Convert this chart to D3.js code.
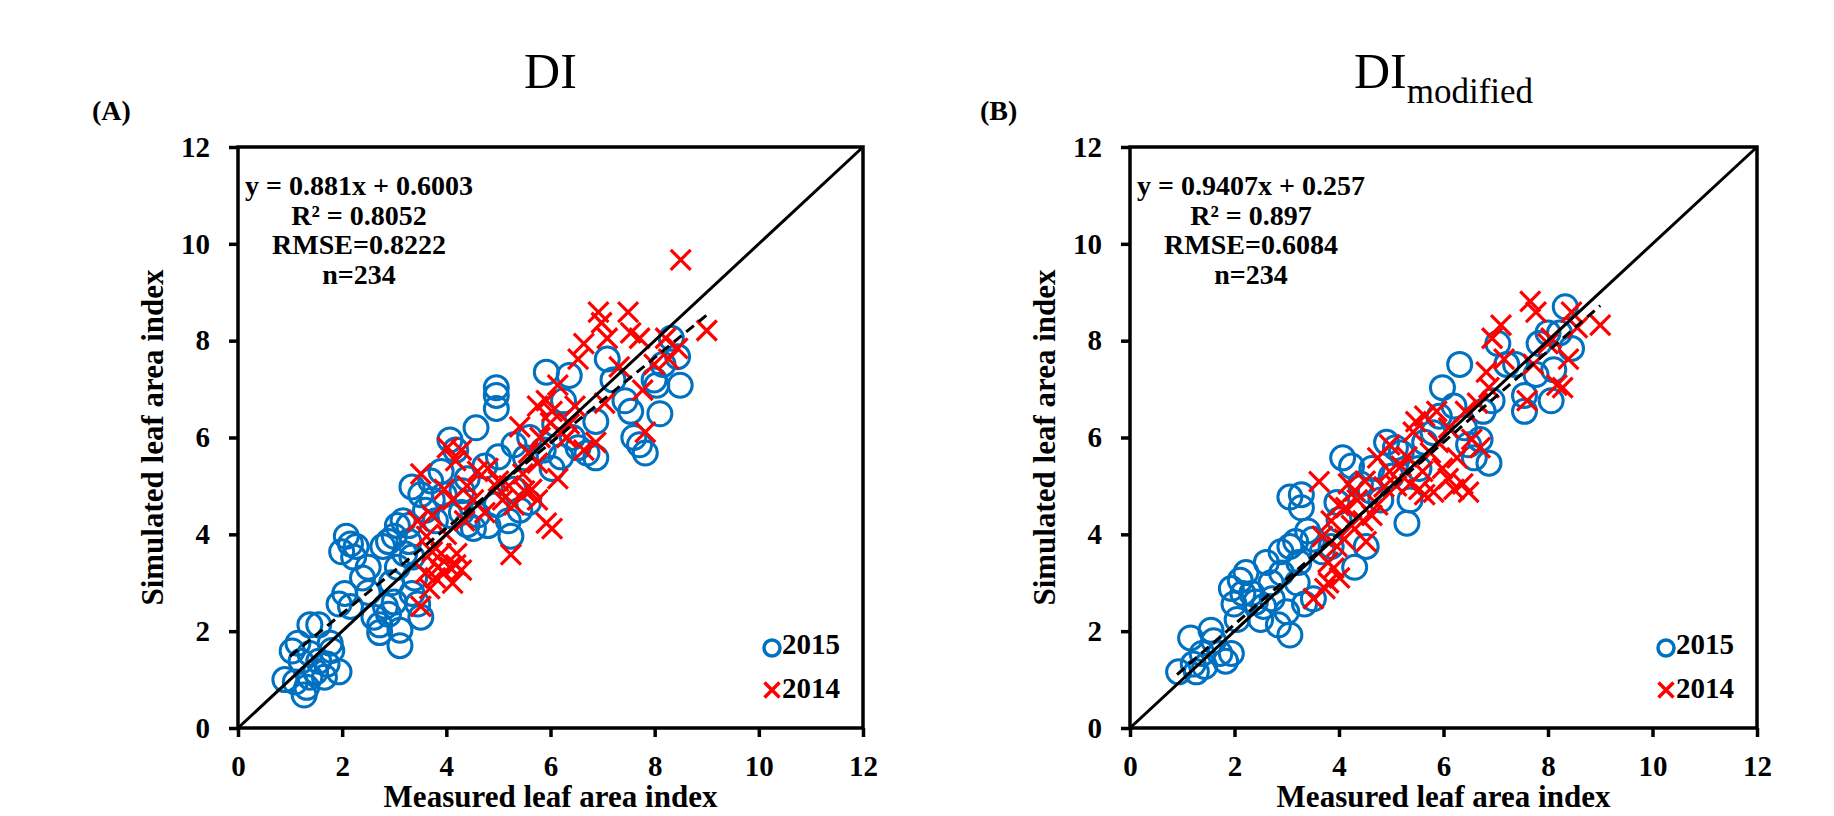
<!DOCTYPE html>
<html><head><meta charset="utf-8">
<script src="https://cdn.jsdelivr.net/npm/d3@7"></script>
<style>body{margin:0;background:#fff}svg{display:block}text{font-family:"Liberation Serif","Times New Roman",serif}</style>
</head><body>
<svg id="c" width="1834" height="816"></svg>
<script>
const ticks = [0, 2, 4, 6, 8, 10, 12];
const domain = [0, 12];
const legendLabels = ["2015", "2014"];
const panelLabels = ["(A)", "(B)"];
const xTitle = "Measured leaf area index";
const yTitle = "Simulated leaf area index";
const statsA = ["y = 0.881x + 0.6003", "R² = 0.8052", "RMSE=0.8222", "n=234"];
const statsB = ["y = 0.9407x + 0.257", "R² = 0.897", "RMSE=0.6084", "n=234"];
const fitA = {slope: 0.881, intercept: 0.6003, x0: 1.0, x1: 9.05};
const fitB = {slope: 0.9407, intercept: 0.257, x0: 0.9, x1: 9.0};

const a2015 = [[0.9,1.0],[1.15,1.75],[1.27,0.68],[1.32,0.84],[1.38,2.13],[1.55,2.13],[1.21,1.38],[1.49,1.16],[1.71,1.32],[1.77,1.75],[1.94,1.16],[1.66,1.05],[1.04,1.59],[1.38,1.54],[1.55,1.38],[1.1,0.95],[1.38,1.05],
[1.99,3.64],[2.08,3.96],[2.16,3.8],[2.27,3.75],[2.22,3.53],[1.94,2.56],[2.05,2.78],[2.16,2.51],[2.39,3.1],[2.5,3.32],[2.61,2.29],[2.72,2.13],[2.72,1.97],[2.83,2.51],[2.78,3.75],[2.89,3.85],[2.89,2.35],[3.11,2.02],[3.11,1.7],[2.95,3.0],[3.06,3.32],[3.17,4.28],[3.06,4.18],[3.28,4.18],[3.0,3.96],[3.28,3.85],[3.34,3.53],[3.39,3.1],[3.34,2.78],[3.45,2.56],[3.51,2.29],
[3.34,4.98],[3.51,4.82],[3.73,4.71],[3.9,5.3],[4.07,5.95],[4.18,5.74],[3.96,4.82],[3.79,4.28],[4.07,4.39],[4.29,4.45],[4.4,5.15],[4.57,6.2],[4.74,5.41],[4.96,7.03],[4.96,6.87],[4.96,6.6],[4.8,4.18],[4.52,4.12],[4.96,4.61],[5.19,4.28],[5.24,3.96],[5.3,4.93],[5.3,5.85],[5.52,5.58],[5.41,4.5],[5.58,4.66],[5.86,5.74],[5.92,7.35],[6.03,5.36],[6.08,6.28],[6.25,6.76],[6.36,7.28],[6.42,6.0],[6.53,5.79],[6.7,5.68],[6.87,5.58],[6.87,6.33],[7.09,7.62],[7.2,7.19],[7.43,6.76],[7.54,6.54],[7.6,6.0],[7.71,5.85],[7.82,5.68],[7.99,7.19],[8.04,7.08],[8.1,6.49],[8.32,8.05],[8.44,7.67],[8.49,7.08],[8.16,7.51],
[3.2,3.6],[3.6,4.5],[3.7,5.1],[4.3,4.9],[4.6,4.4],[5.0,5.6],[5.6,6.0],[6.2,5.6],[3.0,2.6],[2.5,2.8],[1.8,1.6],[4.4,4.2]];
const a2014 = [[3.51,2.51],[3.51,5.25],[3.45,4.28],[3.62,3.96],[3.73,3.64],[3.79,3.1],[3.68,2.88],[3.84,3.32],[3.96,3.21],[4.07,3.32],[4.18,3.37],[4.29,3.26],[4.12,2.99],[3.73,4.39],[3.96,4.93],[4.02,5.79],[4.18,5.52],[4.29,5.74],[4.12,4.71],[4.35,4.28],[4.52,4.71],[4.74,4.45],[4.8,5.36],[4.96,4.98],[5.08,4.71],[5.24,3.58],[5.3,4.61],[5.41,6.22],[5.47,5.25],[5.58,5.68],[5.64,4.93],[5.75,5.47],[5.75,6.65],[5.75,4.71],[5.92,4.23],[6.03,4.12],[5.92,6.76],[6.03,6.54],[6.14,7.08],[6.14,5.15],[6.31,6.0],[6.36,6.28],[6.47,6.65],[6.53,7.62],[6.64,7.94],[6.92,8.59],[6.98,8.37],[7.09,8.05],[6.64,5.74],[6.87,5.9],[7.04,6.71],[7.49,8.59],[7.54,8.16],[7.71,8.05],[7.77,6.98],[7.82,6.11],[7.99,7.51],[8.27,7.62],[8.44,7.84],[8.5,9.67],[9.0,8.21],[8.21,8.05],[7.32,7.46],
[3.9,3.6],[4.0,4.0],[4.4,5.0],[4.6,5.3],[5.0,5.1],[5.2,5.0],[5.5,4.9],[5.8,6.0],[6.0,6.3],[6.2,6.1],[3.6,3.2],[4.2,3.6]];

const b2015 = [[0.93,1.16],[1.16,1.86],[1.27,1.16],[1.38,1.54],[1.55,2.02],[1.72,1.54],[1.94,1.54],[1.83,1.38],[1.21,1.32],[1.43,1.27],[1.94,2.88],[1.99,2.56],[2.11,3.05],[2.22,3.21],[2.33,2.78],[2.16,2.78],[2.05,2.24],[2.5,2.24],[2.61,3.42],[2.56,2.51],[2.72,2.67],[2.84,2.13],[3.0,2.4],[3.06,1.92],[2.89,3.64],[3.06,3.75],[3.17,3.85],[3.23,3.42],[3.34,2.56],[3.51,2.67],[3.06,4.77],[3.28,4.82],[3.28,4.55],[3.4,4.07],[3.68,3.64],[3.85,3.75],[3.96,4.66],[4.07,5.58],[4.24,5.41],[4.3,3.32],[4.52,3.75],[4.41,5.04],[4.63,5.36],[4.8,4.71],[4.91,5.9],[5.08,5.79],[5.19,5.68],[5.3,4.23],[5.36,4.71],[5.53,5.36],[5.64,5.9],[5.98,7.03],[5.92,6.44],[6.2,6.65],[6.31,7.51],[6.48,5.85],[6.59,5.58],[6.7,5.96],[6.87,5.47],[6.76,6.54],[6.93,6.76],[7.04,7.94],[7.21,7.51],[7.38,7.51],[7.55,6.87],[7.55,6.54],[7.77,7.3],[7.83,7.94],[8.0,8.16],[8.11,7.4],[8.06,6.76],[8.33,8.7],[8.45,7.84],[8.22,8.16],
[1.6,1.8],[2.4,2.6],[2.9,3.2],[3.2,3.0],[2.7,3.0],[3.5,3.9],[4.0,4.3],[4.6,4.9],[5.0,5.2],[5.8,6.1],[6.4,6.2]];
const b2014 = [[3.51,2.67],[3.62,5.09],[3.79,3.42],[3.68,3.96],[3.85,4.28],[3.96,3.75],[4.01,3.1],[4.13,4.55],[4.18,5.04],[4.24,4.18],[4.35,4.71],[4.46,4.28],[4.52,3.85],[4.63,4.39],[4.74,4.61],[4.86,4.98],[4.97,5.3],[4.74,5.58],[4.97,5.85],[5.19,5.41],[5.36,5.04],[5.42,6.11],[5.47,6.33],[5.53,4.93],[5.64,4.82],[5.64,6.44],[5.75,5.68],[5.81,4.87],[5.87,6.54],[5.98,5.36],[6.09,5.15],[6.2,4.93],[6.26,5.58],[6.37,5.04],[6.48,4.87],[6.42,6.54],[6.54,5.96],[6.65,6.71],[6.7,5.79],[6.82,7.35],[6.87,7.03],[6.93,8.05],[7.1,8.32],[7.16,7.62],[7.66,8.81],[7.77,8.59],[7.6,6.76],[7.72,7.51],[8.0,7.94],[8.06,8.05],[8.17,7.08],[8.28,7.03],[8.45,8.59],[8.56,8.27],[9.0,8.32],[8.39,7.62],[3.73,2.88],
[3.9,3.3],[4.1,3.9],[4.3,4.9],[4.5,5.1],[5.1,5.0],[5.3,5.6],[5.6,5.3],[5.9,5.9],[6.1,6.2],[4.0,4.6],[3.8,3.0]];

const svg = d3.select("#c");
const panels = [
  {left: 238, right: 863, top: 147, bottom: 728, s2015: a2015, s2014: a2014, stats: statsA, fit: fitA, label: panelLabels[0], labelX: 92, title: "DI", sub: null},
  {left: 1130, right: 1757, top: 147, bottom: 728, s2015: b2015, s2014: b2014, stats: statsB, fit: fitB, label: panelLabels[1], labelX: 980, title: "DI", sub: "modified"}
];
const blue = "#0070C0", red = "#FF0000";

panels.forEach(p => {
  const x = d3.scaleLinear(domain, [p.left, p.right]);
  const y = d3.scaleLinear(domain, [p.bottom, p.top]);
  const g = svg.append("g");

  const cx = (p.left + p.right) / 2;
  const t = g.append("text").attr("x", cx).attr("y", 88).attr("text-anchor", "middle")
    .attr("font-size", 50).attr("fill", "#000");
  t.append("tspan").text(p.title);
  if (p.sub) t.append("tspan").attr("font-size", 35).attr("dy", 15).text(p.sub);

  g.append("text").attr("x", p.labelX).attr("y", 120).attr("font-size", 28).attr("font-weight", "bold").text(p.label);

  g.append("g").selectAll("circle").data(p.s2015).join("circle")
    .attr("cx", d => x(d[0])).attr("cy", d => y(d[1])).attr("r", 12)
    .attr("fill", "none").attr("stroke", blue).attr("stroke-width", 3);
  const cs = 10;
  g.append("g").selectAll("path").data(p.s2014).join("path")
    .attr("d", d => { const px = x(d[0]), py = y(d[1]);
      return `M${px-cs},${py-cs}L${px+cs},${py+cs}M${px-cs},${py+cs}L${px+cs},${py-cs}`; })
    .attr("stroke", red).attr("stroke-width", 3.2).attr("fill", "none");

  g.append("line").attr("x1", x(0)).attr("y1", y(0)).attr("x2", x(12)).attr("y2", y(12))
    .attr("stroke", "#000").attr("stroke-width", 3);
  const f = p.fit;
  g.append("line").attr("x1", x(f.x0)).attr("y1", y(f.slope * f.x0 + f.intercept))
    .attr("x2", x(f.x1)).attr("y2", y(f.slope * f.x1 + f.intercept))
    .attr("stroke", "#000").attr("stroke-width", 3).attr("stroke-dasharray", "10,6");

  g.append("rect").attr("x", p.left).attr("y", p.top).attr("width", p.right - p.left).attr("height", p.bottom - p.top)
    .attr("fill", "none").attr("stroke", "#000").attr("stroke-width", 3.5);

  const xa = g.append("g").attr("transform", `translate(0,${p.bottom})`)
    .call(d3.axisBottom(x).tickValues(ticks).tickSize(9).tickSizeOuter(0).tickPadding(18).tickFormat(d3.format("d")));
  const ya = g.append("g").attr("transform", `translate(${p.left},0)`)
    .call(d3.axisLeft(y).tickValues(ticks).tickSize(9).tickSizeOuter(0).tickPadding(19).tickFormat(d3.format("d")));
  [xa, ya].forEach(a => {
    a.select(".domain").remove();
    a.selectAll("line").attr("stroke", "#000").attr("stroke-width", 3.5);
    a.selectAll("text").attr("font-size", 29).attr("font-weight", "bold").attr("fill", "#000")
      .attr("font-family", "'Liberation Serif','Times New Roman',serif");
  });

  g.append("text").attr("x", cx).attr("y", 807).attr("text-anchor", "middle")
    .attr("font-size", 31).attr("font-weight", "bold").text(xTitle);
  g.append("text").attr("transform", `translate(${p.left - 75},${(p.top + p.bottom) / 2}) rotate(-90)`)
    .attr("text-anchor", "middle").attr("font-size", 31).attr("font-weight", "bold").text(yTitle);

  const st = g.append("text").attr("text-anchor", "middle").attr("font-size", 28).attr("font-weight", "bold");
  p.stats.forEach((s, i) => st.append("tspan").attr("x", p.left + 121).attr("y", 195 + i * 29.5).text(s));

  const lx = p.right - 91;
  g.append("circle").attr("cx", lx).attr("cy", y(0) - 80).attr("r", 8).attr("fill", "none").attr("stroke", blue).attr("stroke-width", 3.5);
  const ls = 7.5, ly = p.bottom - 38;
  g.append("path").attr("d", `M${lx-ls},${ly-ls}L${lx+ls},${ly+ls}M${lx-ls},${ly+ls}L${lx+ls},${ly-ls}`)
    .attr("stroke", red).attr("stroke-width", 3.5);
  g.append("text").attr("x", lx + 10).attr("y", p.bottom - 74).attr("font-size", 29).attr("font-weight", "bold").text(legendLabels[0]);
  g.append("text").attr("x", lx + 10).attr("y", p.bottom - 30).attr("font-size", 29).attr("font-weight", "bold").text(legendLabels[1]);
});
</script>
</body></html>
